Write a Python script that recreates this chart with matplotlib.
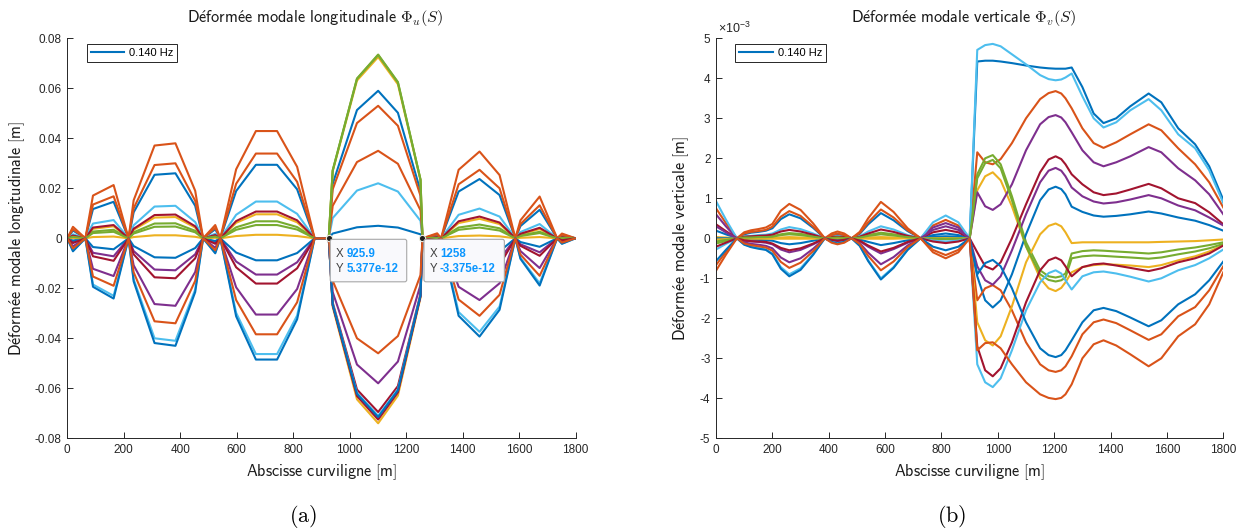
import matplotlib
matplotlib.use("Agg")
import matplotlib.pyplot as plt
from matplotlib.patches import FancyBboxPatch
from matplotlib.ticker import FuncFormatter
from matplotlib.transforms import IdentityTransform

plt.rcParams["mathtext.fontset"] = "cm"
plt.rcParams["font.family"] = ["Liberation Sans", "DejaVu Sans"]

# MATLAB default colour order, cycled over the 16 modes
MATLAB_ORDER = ["#0072BD", "#D95319", "#EDB120", "#7E2F8E", "#77AC30", "#4DBEEE", "#A2142F"]
LINE_COLORS = [MATLAB_ORDER[i % 7] for i in range(16)]
AX_COLOR = "#262626"
TIP_BLUE = "#0A96FF"

freq_label = "0.140 Hz"

# ---- (a) longitudinal mode shapes: nodes [m] and values [mm] ----
s_long = [0, 20, 64, 91, 164, 217, 235, 309, 383, 453, 481, 524, 542, 598, 668, 743,
          814, 876, 926, 940, 1026, 1101, 1171, 1251, 1258, 1310, 1324, 1386, 1460,
          1531, 1587, 1605, 1673, 1735, 1752, 1800]

phi_u_mm = [
    [0, 3.1, 0, 11.7, 14.6, 0, 10.4, 25.4, 26.0, 13.0, 0, 3.6, 0, 18.9, 29.4, 29.4, 19.6, 0, 0, 21.8, 51.3, 59.0, 50.2, 18.9, 0, 1.4, 0, 18.7, 23.7, 17.3, 0, 4.9, 11.4, 0, 1.3, 0],
    [0, 4.6, 0, 17.1, 21.3, 0, 15.2, 37.1, 38.0, 19.0, 0, 5.3, 0, 27.6, 42.9, 42.9, 28.6, 0, 0, 19.6, 46.1, 53.0, 45.0, 17.0, 0, 2.0, 0, 27.4, 34.7, 25.3, 0, 7.2, 16.7, 0, 1.9, 0],
    [0, 1.0, 0, 3.8, 4.8, 0, 3.4, 8.3, 8.5, 4.3, 0, 1.2, 0, 6.2, 9.6, 9.6, 6.4, 0, 0, 26.8, 63.1, 72.5, 61.6, 23.2, 0, 0.5, 0, 6.1, 7.8, 5.7, 0, 1.6, 3.7, 0, 0.4, 0],
    [0, -1.5, 0, -5.8, -7.2, 0, -5.1, -12.5, -12.8, -6.4, 0, -1.8, 0, -9.3, -14.5, -14.5, -9.6, 0, 0, -21.5, -50.5, -58.0, -49.3, -18.6, 0, -0.7, 0, -9.2, -11.7, -8.5, 0, -2.4, -5.6, 0, -0.6, 0],
    [0, 0.7, 0, 2.7, 3.4, 0, 2.4, 5.9, 6.0, 3.0, 0, 0.8, 0, 4.4, 6.8, 6.8, 4.5, 0, 0, 27.2, 63.9, 73.5, 62.5, 23.5, 0, 0.3, 0, 4.3, 5.5, 4.0, 0, 1.1, 2.6, 0, 0.3, 0],
    [0, 1.6, 0, 5.9, 7.3, 0, 5.2, 12.7, 13.0, 6.5, 0, 1.8, 0, 9.4, 14.7, 14.7, 9.8, 0, 0, 8.1, 19.1, 22.0, 18.7, 7.0, 0, 0.7, 0, 9.4, 11.9, 8.7, 0, 2.5, 5.7, 0, 0.7, 0],
    [0, 1.1, 0, 4.3, 5.3, 0, 3.8, 9.3, 9.5, 4.8, 0, 1.3, 0, 6.9, 10.7, 10.7, 7.2, 0, 0, -25.7, -60.5, -69.5, -59.1, -22.2, 0, 0.5, 0, 6.8, 8.7, 6.3, 0, 1.8, 4.2, 0, 0.5, 0],
    [0, -0.9, 0, -3.5, -4.4, 0, -3.1, -7.6, -7.8, -3.9, 0, -1.1, 0, -5.7, -8.8, -8.8, -5.9, 0, 0, 1.9, 4.4, 5.0, 4.3, 1.6, 0, -0.4, 0, -5.6, -7.1, -5.2, 0, -1.5, -3.4, 0, -0.4, 0],
    [0, 3.6, 0, 13.5, 16.8, 0, 12.0, 29.3, 30.0, 15.0, 0, 4.2, 0, 21.8, 33.9, 33.9, 22.6, 0, 0, 13.0, 30.5, 35.0, 29.8, 11.2, 0, 1.6, 0, 21.6, 27.4, 20.0, 0, 5.7, 13.2, 0, 1.5, 0],
    [0, 0.1, 0, 0.5, 0.7, 0, 0.5, 1.2, 1.2, 0.6, 0, 0.2, 0, 0.9, 1.4, 1.4, 0.9, 0, 0, -27.4, -64.4, -74.0, -62.9, -23.7, 0, 0.1, 0, 0.9, 1.1, 0.8, 0, 0.2, 0.5, 0, 0.1, 0],
    [0, -3.2, 0, -12.2, -15.1, 0, -10.8, -26.3, -27.0, -13.5, 0, -3.8, 0, -19.6, -30.5, -30.5, -20.3, 0, 0, -26.6, -62.6, -72.0, -61.2, -23.0, 0, -1.4, 0, -19.4, -24.7, -18.0, 0, -5.1, -11.9, 0, -1.4, 0],
    [0, 0.6, 0, 2.1, 2.6, 0, 1.9, 4.6, 4.7, 2.4, 0, 0.7, 0, 3.4, 5.3, 5.3, 3.5, 0, 0, 27.1, 63.8, 73.3, 62.3, 23.5, 0, 0.2, 0, 3.4, 4.3, 3.1, 0, 0.9, 2.1, 0, 0.2, 0],
    [0, -4.9, 0, -18.5, -23.0, 0, -16.4, -40.0, -41.0, -20.5, 0, -5.7, 0, -29.8, -46.3, -46.3, -30.9, 0, 0, -26.3, -61.8, -71.0, -60.4, -22.7, 0, -2.2, 0, -29.5, -37.4, -27.3, 0, -7.8, -18.0, 0, -2.1, 0],
    [0, -1.9, 0, -7.2, -9.0, 0, -6.4, -15.6, -16.0, -8.0, 0, -2.2, 0, -11.6, -18.1, -18.1, -12.0, 0, 0, -26.8, -63.1, -72.5, -61.6, -23.2, 0, -0.8, 0, -11.5, -14.6, -10.7, 0, -3.0, -7.0, 0, -0.8, 0],
    [0, -5.2, 0, -19.4, -24.1, 0, -17.2, -41.9, -43.0, -21.5, 0, -6.0, 0, -31.2, -48.5, -48.5, -32.4, 0, 0, -26.5, -62.2, -71.5, -60.8, -22.9, 0, -2.3, 0, -31.0, -39.3, -28.6, 0, -8.2, -18.9, 0, -2.2, 0],
    [0, -4.1, 0, -15.3, -19.0, 0, -13.6, -33.2, -34.0, -17.0, 0, -4.8, 0, -24.7, -38.4, -38.4, -25.6, 0, 0, -17.0, -40.0, -46.0, -39.1, -14.7, 0, -1.8, 0, -24.5, -31.0, -22.6, 0, -6.5, -15.0, 0, -1.7, 0],
]

# data tips shown on panel (a)
tip_x = [925.9, 1258]
tip_y = [5.377e-12, -3.375e-12]

# ---- (b) vertical mode shapes: samples [m] and values [x1e-3 m] ----
s_vert = [0, 35, 74, 100, 124, 150, 177, 200, 230, 260, 300, 345, 386, 410, 431, 455,
          481, 510, 540, 585, 630, 680, 726, 770, 815, 860, 900,
          927, 955, 982, 1010, 1050, 1100, 1150, 1180, 1205, 1225, 1240, 1262, 1300,
          1340, 1375, 1420, 1470, 1535, 1580, 1640, 1700, 1750, 1800]

phi_v_e3 = [
    [0.19, 0.10, 0, 0.10, 0.14, 0.16, 0.19, 0.25, 0.48, 0.60, 0.50, 0.26, 0, 0.07, 0.10, 0.07, 0, 0.11, 0.35, 0.63, 0.45, 0.18, 0, 0.08, 0.12, 0.08, 0,
     4.42, 4.44, 4.44, 4.42, 4.38, 4.32, 4.27, 4.25, 4.24, 4.24, 4.24, 4.27, 3.78, 3.12, 2.88, 3.0, 3.3, 3.62, 3.4, 2.75, 2.35, 1.8, 0.96],
    [0.75, 0.38, 0, 0.15, 0.20, 0.23, 0.27, 0.36, 0.69, 0.86, 0.71, 0.37, 0, 0.12, 0.17, 0.12, 0, 0.16, 0.50, 0.91, 0.66, 0.25, 0, 0.32, 0.46, 0.32, 0,
     2.15, 1.90, 1.85, 1.98, 2.38, 3.0, 3.48, 3.63, 3.68, 3.62, 3.5, 3.25, 2.75, 2.38, 2.26, 2.4, 2.6, 2.85, 2.7, 2.25, 1.85, 1.4, 0.77],
    [0.03, 0.02, 0, 0.01, 0.01, 0.01, 0.01, 0.01, 0.02, 0.03, 0.02, 0.01, 0, 0, 0, 0, 0, 0.01, 0.02, 0.03, 0.02, 0.01, 0, -0.01, -0.02, -0.01, 0,
     1.2, 1.55, 1.65, 1.45, 0.8, -0.2, -1.0, -1.25, -1.32, -1.24, -1.1, -0.85, -0.72, -0.67, -0.65, -0.66, -0.68, -0.72, -0.67, -0.55, -0.45, -0.33, -0.17],
    [0.60, 0.30, 0, -0.06, -0.08, -0.09, -0.11, -0.15, -0.28, -0.35, -0.29, -0.15, 0, -0.05, -0.07, -0.05, 0, -0.07, -0.21, -0.38, -0.27, -0.11, 0, 0.27, 0.38, 0.27, 0,
     1.15, 0.8, 0.71, 0.85, 1.35, 2.2, 2.85, 3.03, 3.08, 3.02, 2.9, 2.65, 2.2, 1.9, 1.8, 1.9, 2.05, 2.28, 2.15, 1.75, 1.45, 1.1, 0.6],
    [-0.13, -0.07, 0, 0.02, 0.03, 0.04, 0.04, 0.05, 0.10, 0.13, 0.11, 0.06, 0, 0.01, 0.02, 0.01, 0, 0.03, 0.08, 0.14, 0.10, 0.04, 0, 0.02, 0.03, 0.02, 0,
     1.6, 2.0, 2.08, 1.85, 1.05, -0.1, -0.8, -0.95, -0.98, -0.95, -0.88, -0.38, -0.32, -0.3, -0.31, -0.33, -0.35, -0.38, -0.35, -0.28, -0.23, -0.17, -0.1],
    [0.93, 0.47, 0, 0.05, 0.06, 0.08, 0.09, 0.12, 0.22, 0.28, 0.23, 0.12, 0, 0.04, 0.06, 0.04, 0, 0.05, 0.17, 0.30, 0.22, 0.08, 0, 0.40, 0.57, 0.40, 0,
     4.71, 4.83, 4.86, 4.8, 4.6, 4.35, 4.08, 3.98, 3.95, 3.97, 4.02, 4.12, 3.55, 3.0, 2.77, 2.9, 3.2, 3.48, 3.2, 2.6, 2.25, 1.7, 0.88],
    [0.35, 0.18, 0, 0.04, 0.05, 0.06, 0.07, 0.09, 0.17, 0.21, 0.17, 0.09, 0, 0.03, 0.04, 0.03, 0, 0.04, 0.12, 0.22, 0.16, 0.06, 0, 0.15, 0.21, 0.15, 0,
     -0.35, -0.7, -0.78, -0.6, 0.0, 0.85, 1.65, 1.97, 2.05, 1.98, 1.85, 1.6, 1.35, 1.15, 1.08, 1.12, 1.22, 1.36, 1.25, 1.0, 0.88, 0.65, 0.35],
    [0.0, 0.0, 0, -0.03, -0.03, -0.04, -0.05, -0.06, -0.12, -0.15, -0.12, -0.06, 0, -0.02, -0.03, -0.02, 0, -0.03, -0.09, -0.17, -0.12, -0.05, 0, 0.04, 0.05, 0.04, 0,
     -0.95, -1.55, -1.73, -1.55, -0.9, 0.1, 0.95, 1.22, 1.29, 1.23, 1.1, 0.79, 0.66, 0.57, 0.54, 0.56, 0.6, 0.67, 0.62, 0.52, 0.44, 0.33, 0.19],
    [-0.67, -0.34, 0, 0.12, 0.16, 0.18, 0.21, 0.29, 0.54, 0.68, 0.56, 0.29, 0, 0.08, 0.12, 0.08, 0, 0.13, 0.40, 0.72, 0.52, 0.20, 0, -0.29, -0.42, -0.29, 0,
     -1.55, -1.25, -1.17, -1.3, -1.8, -2.6, -3.15, -3.3, -3.34, -3.3, -3.2, -2.95, -2.4, -2.1, -2.03, -2.12, -2.3, -2.54, -2.4, -1.95, -1.72, -1.3, -0.7],
    [-0.03, -0.02, 0, -0.01, -0.01, -0.01, -0.01, -0.01, -0.01, -0.01, -0.01, -0.01, 0, 0, 0, 0, 0, 0, -0.01, -0.01, -0.01, 0, 0, 0, 0, 0, 0,
     -2.1, -2.55, -2.68, -2.45, -1.7, -0.6, 0.1, 0.31, 0.37, 0.3, 0.15, -0.12, -0.1, -0.1, -0.1, -0.1, -0.1, -0.1, -0.09, -0.08, -0.07, -0.05, -0.03],
    [0.30, 0.15, 0, -0.10, -0.14, -0.16, -0.19, -0.25, -0.48, -0.60, -0.50, -0.26, 0, -0.07, -0.10, -0.07, 0, -0.12, -0.36, -0.65, -0.47, -0.18, 0, 0.21, 0.30, 0.21, 0,
     -0.7, -1.05, -1.16, -0.95, -0.3, 0.6, 1.4, 1.69, 1.76, 1.69, 1.55, 1.27, 1.05, 0.92, 0.87, 0.9, 0.97, 1.08, 1.0, 0.82, 0.7, 0.52, 0.32],
    [-0.08, -0.04, 0, 0.02, 0.02, 0.03, 0.03, 0.04, 0.08, 0.10, 0.08, 0.04, 0, 0.01, 0.02, 0.01, 0, 0.02, 0.06, 0.10, 0.07, 0.03, 0, -0.01, -0.02, -0.01, 0,
     1.5, 1.88, 1.96, 1.75, 0.95, -0.2, -0.9, -1.04, -1.08, -1.05, -0.98, -0.5, -0.45, -0.43, -0.44, -0.46, -0.48, -0.51, -0.48, -0.4, -0.33, -0.25, -0.14],
    [-0.28, -0.14, 0, -0.15, -0.21, -0.24, -0.28, -0.38, -0.72, -0.90, -0.75, -0.39, 0, -0.08, -0.12, -0.08, 0, -0.18, -0.55, -1.00, -0.72, -0.28, 0, -0.06, -0.08, -0.06, 0,
     -3.15, -3.6, -3.72, -3.5, -2.8, -1.8, -1.1, -0.87, -0.8, -0.88, -1.05, -1.28, -0.95, -0.85, -0.83, -0.88, -0.96, -1.08, -1.0, -0.8, -0.67, -0.5, -0.28],
    [-0.21, -0.11, 0, -0.05, -0.07, -0.08, -0.09, -0.13, -0.24, -0.30, -0.25, -0.13, 0, -0.04, -0.06, -0.04, 0, -0.06, -0.18, -0.33, -0.24, -0.09, 0, -0.08, -0.12, -0.08, 0,
     -2.7, -3.3, -3.45, -3.25, -2.6, -1.6, -0.8, -0.55, -0.48, -0.55, -0.7, -0.95, -0.72, -0.65, -0.63, -0.68, -0.74, -0.82, -0.75, -0.6, -0.5, -0.38, -0.18],
    [-0.57, -0.29, 0, -0.16, -0.22, -0.26, -0.29, -0.40, -0.76, -0.95, -0.79, -0.41, 0, -0.09, -0.13, -0.09, 0, -0.19, -0.57, -1.03, -0.74, -0.29, 0, -0.21, -0.30, -0.21, 0,
     -0.9, -0.62, -0.54, -0.7, -1.25, -2.1, -2.75, -2.92, -2.97, -2.92, -2.8, -2.55, -2.1, -1.8, -1.74, -1.82, -1.98, -2.2, -2.05, -1.65, -1.4, -1.05, -0.58],
    [-0.81, -0.41, 0, -0.13, -0.17, -0.20, -0.23, -0.31, -0.59, -0.74, -0.61, -0.32, 0, -0.11, -0.15, -0.11, 0, -0.14, -0.44, -0.80, -0.58, -0.22, 0, -0.35, -0.50, -0.35, 0,
     -2.8, -2.62, -2.6, -2.75, -3.15, -3.6, -3.9, -3.99, -4.02, -3.99, -3.9, -3.65, -3.0, -2.65, -2.55, -2.68, -2.9, -3.2, -3.0, -2.45, -2.15, -1.65, -0.85],
]

u_ticks = [-0.08, -0.06, -0.04, -0.02, 0, 0.02, 0.04, 0.06, 0.08]
v_ticks = [-5, -4, -3, -2, -1, 0, 1, 2, 3, 4, 5]
s_ticks = [0, 200, 400, 600, 800, 1000, 1200, 1400, 1600, 1800]

LABEL_SIZE = 11.7


def style_axes(ax, yticks):
    ax.set_xlim(0, 1800)
    ax.set_ylim(yticks[0], yticks[-1])
    ax.set_xticks(s_ticks)
    ax.set_yticks(yticks)
    ax.yaxis.set_major_formatter(FuncFormatter(lambda v, p: f"{v:g}"))
    for side in ("top", "right"):
        ax.spines[side].set_visible(False)
    for side in ("left", "bottom"):
        ax.spines[side].set_color(AX_COLOR)
        ax.spines[side].set_linewidth(0.7)
    ax.tick_params(direction="in", length=4, width=0.7, colors=AX_COLOR, labelsize=8.5)
    ax.tick_params(axis="x", pad=4)
    ax.tick_params(axis="y", pad=4)


def add_legend(ax):
    leg = ax.legend(loc="upper left", bbox_to_anchor=(0.038, 0.986), borderaxespad=0,
                    fontsize=8, handlelength=3.0, handletextpad=0.45, borderpad=0.35,
                    fancybox=False, framealpha=1)
    leg.get_frame().set_edgecolor(AX_COLOR)
    leg.get_frame().set_linewidth(0.7)


def add_datatip(fig, ax, x, y, renderer):
    ax.plot([x], [y], ls="none", marker="o", ms=4.5, mfc="#1E1E1E", mec="#EDEDE0",
            mew=0.8, zorder=30, clip_on=False)
    px, py = ax.transData.transform((x, y))
    right = px
    for k, (lab, val) in enumerate([("X", f"{x:g}"), ("Y", f"{y:.4g}")]):
        ty = py - 16 - 15 * k
        fig.text(px + 7, ty, lab, transform=IdentityTransform(), color="#404040",
                 fontsize=8.3, va="center", ha="left", zorder=33)
        t = fig.text(px + 17.5, ty, val, transform=IdentityTransform(), color=TIP_BLUE,
                     fontsize=8.3, fontweight="bold", va="center", ha="left", zorder=33)
        right = max(right, t.get_window_extent(renderer).x1)
    box = FancyBboxPatch((px + 1.5, py - 43.5), right + 8.5 - (px + 1.5), 42.5,
                         boxstyle="round,pad=0,rounding_size=2", transform=IdentityTransform(),
                         fc="#F9F9FC", ec="#A8A8A8", lw=0.8, zorder=32)
    fig.add_artist(box)


fig = plt.figure(figsize=(12.36, 5.30), dpi=100)
ax_u = fig.add_axes([0.05445, 0.17302, 0.41117, 0.75472])
ax_v = fig.add_axes([0.57929, 0.17302, 0.41044, 0.75472])

for i, row in enumerate(phi_u_mm):
    ax_u.plot(s_long, [v / 1000 for v in row], color=LINE_COLORS[i], lw=1.5,
              label=freq_label if i == 0 else None)
for i, row in enumerate(phi_v_e3):
    ax_v.plot(s_vert, row, color=LINE_COLORS[i], lw=1.5,
              label=freq_label if i == 0 else None)

style_axes(ax_u, u_ticks)
style_axes(ax_v, v_ticks)
add_legend(ax_u)
add_legend(ax_v)

title_u = r"$\mathsf{D\acute{e}form\acute{e}e\ modale\ longitudinale}\ \Phi_u(S)$"
title_v = r"$\mathsf{D\acute{e}form\acute{e}e\ modale\ verticale}\ \Phi_v(S)$"
for ax, ttl, ylab in [(ax_u, title_u, r"$\mathsf{D\acute{e}form\acute{e}e\ modale\ longitudinale\ [m]}$"),
                      (ax_v, title_v, r"$\mathsf{D\acute{e}form\acute{e}e\ modale\ verticale\ [m]}$")]:
    ax.text(0.488, 1.049, ttl, transform=ax.transAxes, ha="center", va="center",
            fontsize=LABEL_SIZE, color="#1a1a1a")
    ax.set_xlabel(r"$\mathsf{Abscisse\ curviligne\ [m]}$", fontsize=LABEL_SIZE,
                  color="#1a1a1a", va="center")
    ax.xaxis.set_label_coords(0.5, -0.085)
    ax.set_ylabel(ylab, fontsize=LABEL_SIZE, color="#1a1a1a", va="center")

ax_u.yaxis.set_label_coords(-0.097, 0.5)
ax_v.yaxis.set_label_coords(-0.068, 0.5)

ax_v.text(0.003, 1.006, r"$\mathregular{\times10^{-3}}$", transform=ax_v.transAxes,
          ha="left", va="bottom", fontsize=9, color=AX_COLOR)

renderer = fig.canvas.get_renderer()
for x, y in zip(tip_x, tip_y):
    add_datatip(fig, ax_u, x, y, renderer)

fig.text(303 / 1236, 1 - 517 / 530, r"$(\mathrm{a})$", ha="center", va="center", fontsize=16)
fig.text(952 / 1236, 1 - 517 / 530, r"$(\mathrm{b})$", ha="center", va="center", fontsize=16)

fig.savefig("out.png", dpi=100)
